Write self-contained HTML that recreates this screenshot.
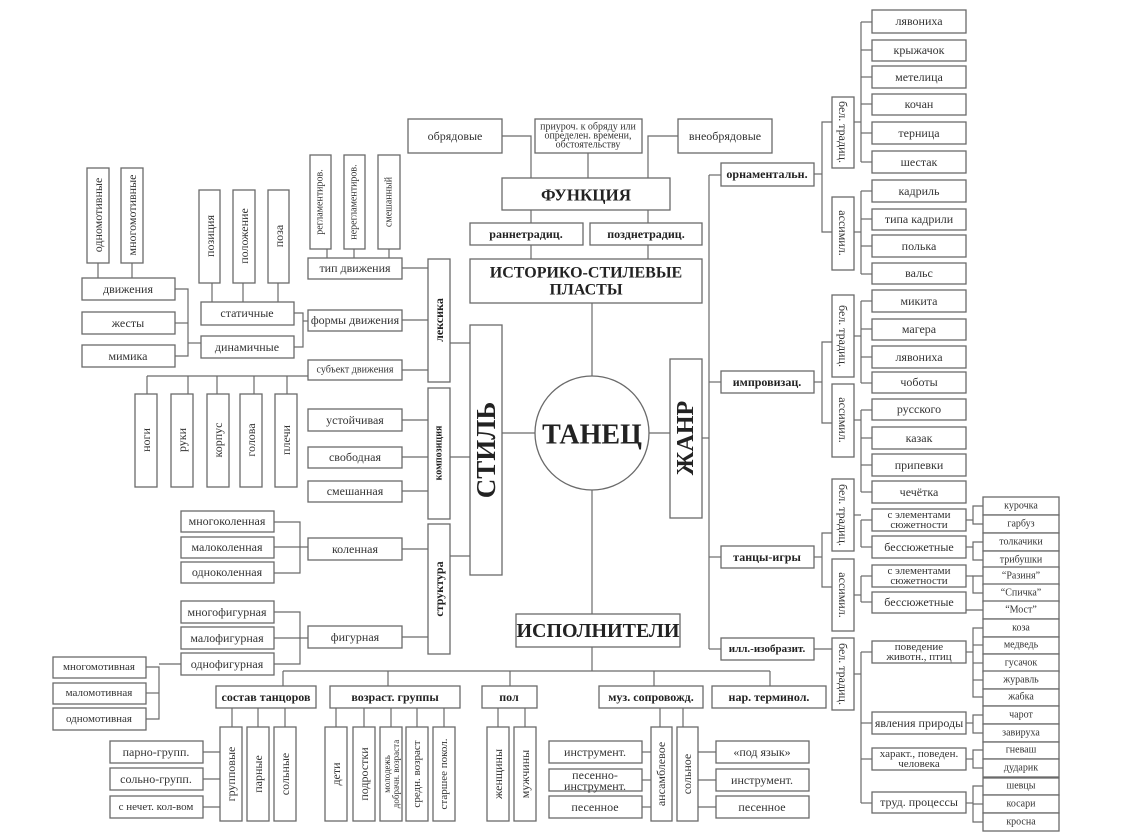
<!DOCTYPE html>
<html><head><meta charset="utf-8"><style>
html,body{margin:0;padding:0;background:#fff}
svg{display:block}
rect,circle{fill:#fff;stroke:#6a6a6a;stroke-width:1.3}
line,polyline{stroke:#6a6a6a;stroke-width:1.2;fill:none}
text{font-family:"Liberation Serif",serif;font-size:12px;fill:#333;text-anchor:middle;dominant-baseline:central}
.b{font-weight:bold;fill:#222}
.s{font-size:10px}
</style></head><body>
<svg width="1138" height="839" viewBox="0 0 1138 839" xmlns="http://www.w3.org/2000/svg">
<!-- top left -->
<rect x="87" y="168" width="22" height="95"/><text transform="translate(98,215) rotate(-90)">одномотивные</text>
<rect x="121" y="168" width="22" height="95"/><text transform="translate(132,215) rotate(-90)">многомотивные</text>
<line x1="98" y1="263" x2="98" y2="278"/><line x1="132" y1="263" x2="132" y2="278"/>
<rect x="82" y="278" width="93" height="22"/><text x="128" y="289">движения</text>
<rect x="82" y="312" width="93" height="22"/><text x="128" y="323">жесты</text>
<rect x="82" y="345" width="93" height="22"/><text x="128" y="356">мимика</text>
<polyline points="175,289 188,289 188,356 175,356"/><line x1="175" y1="323" x2="188" y2="323"/><line x1="188" y1="343" x2="201" y2="343"/>
<rect x="199" y="190" width="21" height="93"/><text transform="translate(210,236) rotate(-90)">позиция</text>
<rect x="233" y="190" width="22" height="93"/><text transform="translate(244,236) rotate(-90)">положение</text>
<rect x="268" y="190" width="21" height="93"/><text transform="translate(279,236) rotate(-90)">поза</text>
<line x1="212" y1="283" x2="212" y2="302"/><line x1="243" y1="283" x2="243" y2="302"/><line x1="278" y1="283" x2="278" y2="302"/>
<rect x="201" y="302" width="93" height="23"/><text x="247" y="313">статичные</text>
<rect x="201" y="336" width="93" height="22"/><text x="247" y="347">динамичные</text>
<polyline points="294,313 303,313 303,347 294,347"/><line x1="303" y1="321" x2="308" y2="321"/>
<rect x="310" y="155" width="21" height="94"/><text transform="translate(320,202) rotate(-90)" class="s">регламентиров.</text>
<rect x="344" y="155" width="21" height="94"/><text transform="translate(354,202) rotate(-90)" class="s">нерегламентиров.</text>
<rect x="378" y="155" width="22" height="94"/><text transform="translate(389,202) rotate(-90)" class="s">смешанный</text>
<line x1="327" y1="249" x2="327" y2="258"/><line x1="354" y1="249" x2="354" y2="258"/><line x1="389" y1="249" x2="389" y2="258"/>
<rect x="308" y="258" width="94" height="21"/><text x="355" y="268">тип движения</text>
<rect x="308" y="310" width="94" height="21"/><text x="355" y="320">формы движения</text>
<rect x="308" y="360" width="94" height="20"/><text x="355" y="370" class="s">субъект движения</text>
<line x1="402" y1="268" x2="428" y2="268"/><line x1="402" y1="320" x2="428" y2="320"/><line x1="402" y1="370" x2="428" y2="370"/>
<rect x="428" y="259" width="22" height="123"/><text transform="translate(439,320) rotate(-90)" class="b">лексика</text>
<line x1="147" y1="376" x2="308" y2="376"/>
<line x1="147" y1="376" x2="147" y2="394"/><line x1="188" y1="376" x2="188" y2="394"/><line x1="217" y1="376" x2="217" y2="394"/><line x1="254" y1="376" x2="254" y2="394"/><line x1="287" y1="376" x2="287" y2="394"/>
<rect x="135" y="394" width="22" height="93"/><text transform="translate(146,440) rotate(-90)">ноги</text>
<rect x="171" y="394" width="22" height="93"/><text transform="translate(182,440) rotate(-90)">руки</text>
<rect x="207" y="394" width="22" height="93"/><text transform="translate(218,440) rotate(-90)">корпус</text>
<rect x="240" y="394" width="22" height="93"/><text transform="translate(251,440) rotate(-90)">голова</text>
<rect x="275" y="394" width="22" height="93"/><text transform="translate(286,440) rotate(-90)">плечи</text>
<rect x="308" y="409" width="94" height="22"/><text x="355" y="420">устойчивая</text>
<rect x="308" y="447" width="94" height="21"/><text x="355" y="457">свободная</text>
<rect x="308" y="481" width="94" height="21"/><text x="355" y="491">смешанная</text>
<line x1="402" y1="420" x2="428" y2="420"/><line x1="402" y1="457" x2="428" y2="457"/><line x1="402" y1="491" x2="428" y2="491"/>
<rect x="428" y="388" width="22" height="131"/><text transform="translate(439,453) rotate(-90)" class="b s">композиция</text>
<rect x="181" y="511" width="93" height="21"/><text x="227" y="521">многоколенная</text>
<rect x="181" y="537" width="93" height="21"/><text x="227" y="547">малоколенная</text>
<rect x="181" y="562" width="93" height="21"/><text x="227" y="572">одноколенная</text>
<polyline points="274,522 300,522 300,573 274,573"/><line x1="274" y1="547" x2="308" y2="547"/>
<rect x="308" y="538" width="94" height="22"/><text x="355" y="549">коленная</text>
<rect x="181" y="601" width="93" height="22"/><text x="227" y="612">многофигурная</text>
<rect x="181" y="627" width="93" height="22"/><text x="227" y="638">малофигурная</text>
<rect x="181" y="653" width="93" height="22"/><text x="227" y="664">однофигурная</text>
<polyline points="274,612 300,612 300,664 274,664"/><line x1="274" y1="638" x2="308" y2="638"/>
<rect x="308" y="626" width="94" height="22"/><text x="355" y="637">фигурная</text>
<line x1="402" y1="549" x2="428" y2="549"/><line x1="402" y1="637" x2="428" y2="637"/>
<rect x="428" y="524" width="22" height="130"/><text transform="translate(439,589) rotate(-90)" class="b">структура</text>
<line x1="450" y1="343" x2="470" y2="343"/><line x1="450" y1="457" x2="470" y2="457"/><line x1="450" y1="556" x2="470" y2="556"/>
<rect x="470" y="325" width="32" height="250"/><text transform="translate(486,450) rotate(-90)" class="b" style="font-size:27px">СТИЛЬ</text>
<rect x="53" y="657" width="93" height="21"/><text x="99" y="667" class="s" style="font-size:11px">многомотивная</text>
<rect x="53" y="683" width="93" height="21"/><text x="99" y="693" style="font-size:11px">маломотивная</text>
<rect x="53" y="708" width="93" height="22"/><text x="99" y="719" style="font-size:11px">одномотивная</text>
<polyline points="146,667 159,667 159,719 146,719"/><line x1="146" y1="693" x2="159" y2="693"/><line x1="159" y1="664" x2="181" y2="664"/>
<!-- top centre -->
<rect x="408" y="119" width="94" height="34"/><text x="455" y="136">обрядовые</text>
<rect x="535" y="119" width="107" height="34"/>
<text x="588" y="127" class="s">приуроч. к обряду или</text><text x="588" y="136" class="s">определен. времени,</text><text x="588" y="145" class="s">обстоятельству</text>
<rect x="678" y="119" width="94" height="34"/><text x="725" y="136">внеобрядовые</text>
<polyline points="502,136 531,136 531,178"/><line x1="588" y1="153" x2="588" y2="178"/><polyline points="678,136 648,136 648,178"/>
<rect x="502" y="178" width="168" height="32"/><text x="586" y="195" class="b" style="font-size:17px">ФУНКЦИЯ</text>
<line x1="531" y1="210" x2="531" y2="223"/><line x1="648" y1="210" x2="648" y2="223"/>
<rect x="470" y="223" width="113" height="22"/><text x="526" y="234" class="b">раннетрадиц.</text>
<rect x="590" y="223" width="112" height="22"/><text x="646" y="234" class="b">позднетрадиц.</text>
<line x1="531" y1="245" x2="531" y2="259"/><line x1="648" y1="245" x2="648" y2="259"/>
<rect x="470" y="259" width="232" height="44"/><text x="586" y="273" class="b" style="font-size:16px">ИСТОРИКО-СТИЛЕВЫЕ</text><text x="586" y="290" class="b" style="font-size:16px">ПЛАСТЫ</text>
<line x1="592" y1="303" x2="592" y2="376"/>
<line x1="502" y1="433" x2="535" y2="433"/><line x1="649" y1="433" x2="670" y2="433"/>
<circle cx="592" cy="433" r="57"/><text x="592" y="435" class="b" style="font-size:28px">ТАНЕЦ</text>
<rect x="670" y="359" width="32" height="159"/><text transform="translate(686,438) rotate(-90)" class="b" style="font-size:24px">ЖАНР</text>
<line x1="702" y1="438" x2="709" y2="438"/>
<line x1="592" y1="490" x2="592" y2="614"/>
<rect x="516" y="614" width="164" height="33"/><text x="598" y="631" class="b" style="font-size:20px">ИСПОЛНИТЕЛИ</text>
<!-- bottom -->
<line x1="592" y1="647" x2="592" y2="671"/><line x1="283" y1="671" x2="770" y2="671"/>
<line x1="283" y1="671" x2="283" y2="686"/><line x1="388" y1="671" x2="388" y2="686"/><line x1="510" y1="671" x2="510" y2="686"/><line x1="654" y1="671" x2="654" y2="686"/><line x1="770" y1="671" x2="770" y2="686"/>
<rect x="216" y="686" width="100" height="22"/><text x="266" y="697" class="b">состав танцоров</text>
<rect x="330" y="686" width="130" height="22"/><text x="395" y="697" class="b">возраст. группы</text>
<rect x="482" y="686" width="55" height="22"/><text x="509" y="697" class="b">пол</text>
<rect x="599" y="686" width="104" height="22"/><text x="651" y="697" class="b">муз. сопровожд.</text>
<rect x="712" y="686" width="114" height="22"/><text x="769" y="697" class="b">нар. терминол.</text>
<line x1="232" y1="708" x2="232" y2="727"/><line x1="258" y1="708" x2="258" y2="727"/><line x1="285" y1="708" x2="285" y2="727"/>
<rect x="220" y="727" width="22" height="94"/><text transform="translate(231,774) rotate(-90)">групповые</text>
<rect x="247" y="727" width="22" height="94"/><text transform="translate(258,774) rotate(-90)">парные</text>
<rect x="274" y="727" width="22" height="94"/><text transform="translate(285,774) rotate(-90)">сольные</text>
<rect x="110" y="741" width="93" height="22"/><text x="156" y="752">парно-групп.</text>
<rect x="110" y="768" width="93" height="22"/><text x="156" y="779">сольно-групп.</text>
<rect x="110" y="796" width="93" height="22"/><text x="156" y="807" style="font-size:11px">с нечет. кол-вом</text>
<line x1="203" y1="752" x2="220" y2="752"/><line x1="203" y1="779" x2="220" y2="779"/><line x1="203" y1="807" x2="220" y2="807"/>
<line x1="336" y1="708" x2="336" y2="727"/><line x1="364" y1="708" x2="364" y2="727"/><line x1="391" y1="708" x2="391" y2="727"/><line x1="417" y1="708" x2="417" y2="727"/><line x1="444" y1="708" x2="444" y2="727"/>
<rect x="325" y="727" width="22" height="94"/><text transform="translate(336,774) rotate(-90)">дети</text>
<rect x="353" y="727" width="22" height="94"/><text transform="translate(364,774) rotate(-90)">подростки</text>
<rect x="380" y="727" width="22" height="94"/><text transform="translate(387,774) rotate(-90)" style="font-size:9px">молодежь</text><text transform="translate(396,774) rotate(-90)" style="font-size:9px">добрачн. возраста</text>
<rect x="406" y="727" width="22" height="94"/><text transform="translate(417,774) rotate(-90)" style="font-size:11px">средн. возраст</text>
<rect x="433" y="727" width="22" height="94"/><text transform="translate(444,774) rotate(-90)" style="font-size:11px">старшее покол.</text>
<line x1="498" y1="708" x2="498" y2="727"/><line x1="525" y1="708" x2="525" y2="727"/>
<rect x="487" y="727" width="22" height="94"/><text transform="translate(498,774) rotate(-90)">женщины</text>
<rect x="514" y="727" width="22" height="94"/><text transform="translate(525,774) rotate(-90)">мужчины</text>
<line x1="660" y1="708" x2="660" y2="727"/><line x1="683" y1="708" x2="683" y2="727"/>
<rect x="651" y="727" width="21" height="94"/><text transform="translate(661,774) rotate(-90)">ансамблевое</text>
<rect x="677" y="727" width="21" height="94"/><text transform="translate(687,774) rotate(-90)">сольное</text>
<rect x="549" y="741" width="93" height="22"/><text x="595" y="752">инструмент.</text>
<rect x="549" y="769" width="93" height="22"/><text x="595" y="775">песенно-</text><text x="595" y="786">инструмент.</text>
<rect x="549" y="796" width="93" height="22"/><text x="595" y="807">песенное</text>
<line x1="642" y1="752" x2="651" y2="752"/><line x1="642" y1="780" x2="651" y2="780"/><line x1="642" y1="807" x2="651" y2="807"/>
<rect x="716" y="741" width="93" height="22"/><text x="762" y="752">«под язык»</text>
<rect x="716" y="769" width="93" height="22"/><text x="762" y="780">инструмент.</text>
<rect x="716" y="796" width="93" height="22"/><text x="762" y="807">песенное</text>
<line x1="698" y1="752" x2="716" y2="752"/><line x1="698" y1="780" x2="716" y2="780"/><line x1="698" y1="807" x2="716" y2="807"/>
<!-- right -->
<line x1="709" y1="175" x2="709" y2="649"/>
<line x1="709" y1="175" x2="721" y2="175"/><line x1="709" y1="382" x2="721" y2="382"/><line x1="709" y1="557" x2="721" y2="557"/><line x1="709" y1="649" x2="721" y2="649"/>
<rect x="721" y="163" width="93" height="23"/><text x="767" y="174" class="b">орнаментальн.</text>
<rect x="721" y="371" width="93" height="22"/><text x="767" y="382" class="b">импровизац.</text>
<rect x="721" y="546" width="93" height="22"/><text x="767" y="557" class="b">танцы-игры</text>
<rect x="721" y="638" width="93" height="22"/><text x="767" y="649" class="b" style="font-size:11px">илл.-изобразит.</text>
<line x1="814" y1="174" x2="822" y2="174"/><polyline points="832,122 822,122 822,232 832,232"/>
<line x1="814" y1="382" x2="822" y2="382"/><polyline points="832,342 822,342 822,423 832,423"/>
<line x1="814" y1="557" x2="822" y2="557"/><polyline points="832,533 822,533 822,587 832,587"/>
<line x1="814" y1="649" x2="832" y2="649"/>
<rect x="832" y="97" width="22" height="71"/><text transform="translate(843,132) rotate(90)">бел. традиц.</text>
<rect x="832" y="197" width="22" height="73"/><text transform="translate(843,233) rotate(90)">ассимил.</text>
<rect x="832" y="295" width="22" height="82"/><text transform="translate(843,336) rotate(90)">бел. традиц.</text>
<rect x="832" y="384" width="22" height="73"/><text transform="translate(843,420) rotate(90)">ассимил.</text>
<rect x="832" y="479" width="22" height="72"/><text transform="translate(843,515) rotate(90)">бел. традиц.</text>
<rect x="832" y="559" width="22" height="72"/><text transform="translate(843,595) rotate(90)">ассимил.</text>
<rect x="832" y="638" width="22" height="72"/><text transform="translate(843,674) rotate(90)">бел. традиц.</text>
<line x1="854" y1="122" x2="861" y2="122"/><line x1="854" y1="232" x2="861" y2="232"/><line x1="854" y1="336" x2="861" y2="336"/><line x1="854" y1="420" x2="861" y2="420"/><line x1="854" y1="515" x2="861" y2="515"/><line x1="854" y1="595" x2="861" y2="595"/><line x1="854" y1="674" x2="861" y2="674"/>
<line x1="861" y1="22" x2="861" y2="162"/><line x1="861" y1="191" x2="861" y2="274"/><line x1="861" y1="301" x2="861" y2="383"/><line x1="861" y1="410" x2="861" y2="492"/><line x1="861" y1="520" x2="861" y2="547"/><line x1="861" y1="576" x2="861" y2="602"/><line x1="861" y1="652" x2="861" y2="803"/>
<g>
<rect x="872" y="10" width="94" height="23"/><text x="919" y="21">лявониха</text>
<rect x="872" y="40" width="94" height="21"/><text x="919" y="50">крыжачок</text>
<rect x="872" y="66" width="94" height="22"/><text x="919" y="77">метелица</text>
<rect x="872" y="94" width="94" height="21"/><text x="919" y="104">кочан</text>
<rect x="872" y="122" width="94" height="22"/><text x="919" y="133">терница</text>
<rect x="872" y="151" width="94" height="22"/><text x="919" y="162">шестак</text>
<rect x="872" y="180" width="94" height="22"/><text x="919" y="191">кадриль</text>
<rect x="872" y="209" width="94" height="21"/><text x="919" y="219">типа кадрили</text>
<rect x="872" y="235" width="94" height="22"/><text x="919" y="246">полька</text>
<rect x="872" y="263" width="94" height="21"/><text x="919" y="273">вальс</text>
<rect x="872" y="290" width="94" height="22"/><text x="919" y="301">микита</text>
<rect x="872" y="319" width="94" height="21"/><text x="919" y="329">магера</text>
<rect x="872" y="346" width="94" height="22"/><text x="919" y="357">лявониха</text>
<rect x="872" y="372" width="94" height="21"/><text x="919" y="382">чоботы</text>
<rect x="872" y="399" width="94" height="21"/><text x="919" y="409">русского</text>
<rect x="872" y="427" width="94" height="22"/><text x="919" y="438">казак</text>
<rect x="872" y="454" width="94" height="22"/><text x="919" y="465">припевки</text>
<rect x="872" y="481" width="94" height="22"/><text x="919" y="492">чечётка</text>
<rect x="872" y="509" width="94" height="22"/><text x="919" y="515" class="s" style="font-size:11px">с элементами</text><text x="919" y="525" style="font-size:11px">сюжетности</text>
<rect x="872" y="536" width="94" height="22"/><text x="919" y="547">бессюжетные</text>
<rect x="872" y="565" width="94" height="22"/><text x="919" y="571" style="font-size:11px">с элементами</text><text x="919" y="581" style="font-size:11px">сюжетности</text>
<rect x="872" y="592" width="94" height="21"/><text x="919" y="602">бессюжетные</text>
<rect x="872" y="641" width="94" height="22"/><text x="919" y="647" style="font-size:11px">поведение</text><text x="919" y="657" style="font-size:11px">животн., птиц</text>
<rect x="872" y="712" width="94" height="22"/><text x="919" y="723">явления природы</text>
<rect x="872" y="748" width="94" height="22"/><text x="919" y="754" style="font-size:11px">характ., поведен.</text><text x="919" y="764" style="font-size:11px">человека</text>
<rect x="872" y="792" width="94" height="21"/><text x="919" y="802">труд. процессы</text>
</g>
<g>
<line x1="861" y1="22" x2="872" y2="22"/><line x1="861" y1="50" x2="872" y2="50"/><line x1="861" y1="77" x2="872" y2="77"/><line x1="861" y1="104" x2="872" y2="104"/><line x1="861" y1="133" x2="872" y2="133"/><line x1="861" y1="162" x2="872" y2="162"/>
<line x1="861" y1="191" x2="872" y2="191"/><line x1="861" y1="219" x2="872" y2="219"/><line x1="861" y1="246" x2="872" y2="246"/><line x1="861" y1="274" x2="872" y2="274"/>
<line x1="861" y1="301" x2="872" y2="301"/><line x1="861" y1="329" x2="872" y2="329"/><line x1="861" y1="357" x2="872" y2="357"/><line x1="861" y1="383" x2="872" y2="383"/>
<line x1="861" y1="410" x2="872" y2="410"/><line x1="861" y1="438" x2="872" y2="438"/><line x1="861" y1="465" x2="872" y2="465"/><line x1="861" y1="492" x2="872" y2="492"/>
<line x1="861" y1="520" x2="872" y2="520"/><line x1="861" y1="547" x2="872" y2="547"/><line x1="861" y1="576" x2="872" y2="576"/><line x1="861" y1="602" x2="872" y2="602"/>
<line x1="861" y1="652" x2="872" y2="652"/><line x1="861" y1="723" x2="872" y2="723"/><line x1="861" y1="759" x2="872" y2="759"/><line x1="861" y1="803" x2="872" y2="803"/>
</g>
<g style="font-size:11px">
<rect x="983" y="497" width="76" height="18"/><text x="1021" y="506" class="s">курочка</text>
<rect x="983" y="515" width="76" height="18"/><text x="1021" y="524" class="s">гарбуз</text>
<rect x="983" y="533" width="76" height="18"/><text x="1021" y="542" class="s">толкачики</text>
<rect x="983" y="551" width="76" height="18"/><text x="1021" y="560" class="s">трибушки</text>
<rect x="983" y="567" width="76" height="18"/><text x="1021" y="576" class="s">“Разиня”</text>
<rect x="983" y="584" width="76" height="18"/><text x="1021" y="593" class="s">“Спичка”</text>
<rect x="983" y="601" width="76" height="18"/><text x="1021" y="610" class="s">“Мост”</text>
<rect x="983" y="619" width="76" height="18"/><text x="1021" y="628" class="s">коза</text>
<rect x="983" y="637" width="76" height="17"/><text x="1021" y="645" class="s">медведь</text>
<rect x="983" y="654" width="76" height="18"/><text x="1021" y="663" class="s">гусачок</text>
<rect x="983" y="671" width="76" height="18"/><text x="1021" y="680" class="s">журавль</text>
<rect x="983" y="689" width="76" height="17"/><text x="1021" y="697" class="s">жабка</text>
<rect x="983" y="706" width="76" height="18"/><text x="1021" y="715" class="s">чарот</text>
<rect x="983" y="724" width="76" height="18"/><text x="1021" y="733" class="s">завируха</text>
<rect x="983" y="742" width="76" height="17"/><text x="1021" y="750" class="s">гневаш</text>
<rect x="983" y="759" width="76" height="18"/><text x="1021" y="768" class="s">дударик</text>
<rect x="983" y="778" width="76" height="17"/><text x="1021" y="786" class="s">шевцы</text>
<rect x="983" y="795" width="76" height="18"/><text x="1021" y="804" class="s">косари</text>
<rect x="983" y="813" width="76" height="18"/><text x="1021" y="822" class="s">кросна</text>
</g>
<g>
<line x1="966" y1="520" x2="973" y2="520"/><polyline points="983,506 973,506 973,524 983,524"/>
<line x1="966" y1="547" x2="973" y2="547"/><polyline points="983,542 973,542 973,560 983,560"/>
<line x1="966" y1="576" x2="973" y2="576"/><polyline points="983,576 973,576 973,593 983,593"/>
<line x1="966" y1="610" x2="983" y2="610"/>
<line x1="966" y1="652" x2="973" y2="652"/><polyline points="983,628 973,628 973,697 983,697"/><line x1="973" y1="645" x2="983" y2="645"/><line x1="973" y1="663" x2="983" y2="663"/><line x1="973" y1="680" x2="983" y2="680"/>
<line x1="966" y1="723" x2="973" y2="723"/><polyline points="983,715 973,715 973,733 983,733"/>
<line x1="966" y1="759" x2="973" y2="759"/><polyline points="983,750 973,750 973,768 983,768"/>
<line x1="966" y1="803" x2="973" y2="803"/><polyline points="983,786 973,786 973,822 983,822"/><line x1="973" y1="804" x2="983" y2="804"/>
</g>
</svg>
</body></html>
